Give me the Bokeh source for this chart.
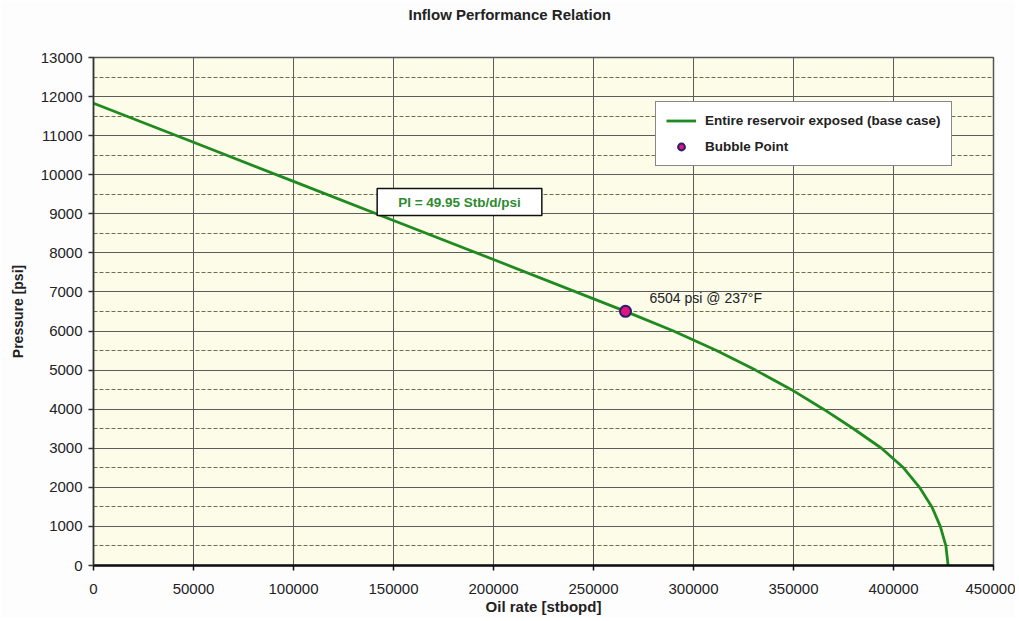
from bokeh.plotting import figure
from bokeh.models import Label, Legend, FixedTicker, BasicTickFormatter, Range1d
from bokeh.embed import file_html
from bokeh.resources import INLINE

# ---- data ----
oil_rate = [0, 50000, 100000, 150000, 200000, 266000, 290000, 311500, 331000,
            349000, 365000, 380000, 394000, 405000, 413000, 419200, 423400, 426200, 427300]
pressure = [11830, 10830, 9830, 8830, 7830, 6504, 6000, 5500, 5000,
            4500, 4000, 3500, 3000, 2500, 2000, 1500, 1000, 500, 0]
bubble_rate = [266000]
bubble_pressure = [6504]

x_ticks = [0, 50000, 100000, 150000, 200000, 250000, 300000, 350000, 400000, 450000]
y_ticks = [0, 1000, 2000, 3000, 4000, 5000, 6000, 7000, 8000, 9000, 10000, 11000, 12000, 13000]
y_minor = [500, 1500, 2500, 3500, 4500, 5500, 6500, 7500, 8500, 9500, 10500, 11500, 12500]

title_text = "Inflow Performance Relation"
x_label = "Oil rate [stbopd]"
y_label = "Pressure [psi]"
series_name = "Entire reservoir exposed (base case)"
bubble_name = "Bubble Point"
pi_text = "PI = 49.95 Stb/d/psi"
bubble_text = "6504 psi @ 237\u00b0F"

FONT = "Liberation Sans"

p = figure(width=1015, height=618,
           x_range=Range1d(0, 450000), y_range=Range1d(0, 13000),
           output_backend="svg", toolbar_location=None,
           min_border_left=93, min_border_right=22,
           min_border_top=57, min_border_bottom=53,
           background_fill_color="#fcfce9", border_fill_color="#fdfdfe")

# trailing empty lines lift the visible title line higher above the frame
p.title.text = title_text + "\n\n"
p.title.align = "left"
p.title.offset = 315
p.title.standoff = 1
p.title.text_font = FONT
p.title.text_font_size = "15px"
p.title.text_font_style = "bold"
p.title.text_color = "#222222"

p.outline_line_color = "#555555"
p.outline_line_width = 1.5

# grids
p.xgrid.ticker = FixedTicker(ticks=x_ticks)
p.xgrid.grid_line_color = "#5c5c5c"
p.xgrid.grid_line_width = 1
p.ygrid.ticker = FixedTicker(ticks=y_ticks, minor_ticks=y_minor)
p.ygrid.grid_line_color = "#5c5c5c"
p.ygrid.grid_line_width = 1
p.ygrid.minor_grid_line_color = "#6e6e48"
p.ygrid.minor_grid_line_dash = "4 2"
p.ygrid.minor_grid_line_width = 1.2

# axes
p.xaxis.ticker = FixedTicker(ticks=x_ticks)
p.yaxis.ticker = FixedTicker(ticks=y_ticks)
for ax in (p.xaxis[0], p.yaxis[0]):
    ax.formatter = BasicTickFormatter(use_scientific=False)
    ax.major_label_text_font = FONT
    ax.major_label_text_font_size = "15px"
    ax.major_label_text_color = "#222222"
    ax.axis_label_text_font = FONT
    ax.axis_label_text_font_style = "bold"
    ax.axis_label_text_color = "#222222"
    ax.major_tick_in = 0
    ax.major_tick_out = 5
    ax.minor_tick_line_color = None

p.xaxis.axis_label = x_label
p.xaxis.axis_label_text_font_size = "15px"
p.xaxis.axis_line_color = "#111111"
p.xaxis.axis_line_width = 2.5
p.xaxis.major_tick_line_color = "#111111"
p.xaxis.major_tick_line_width = 1.5
p.xaxis.major_label_standoff = 13
p.xaxis.axis_label_standoff = 1

p.yaxis.axis_label = y_label
p.yaxis.axis_label_text_font_size = "14px"
p.yaxis.axis_line_color = "#333333"
p.yaxis.axis_line_width = 1.5
p.yaxis.major_tick_line_color = "#333333"
p.yaxis.major_tick_line_width = 1.5
p.yaxis.major_label_standoff = 6
p.yaxis.axis_label_standoff = 12

# data
curve = p.line(oil_rate, pressure, line_color="#1f8a1f", line_width=2.8)
bubble = p.scatter(bubble_rate, bubble_pressure, size=11, marker="circle",
                   fill_color="#e0157f", line_color="#2b1d6b", line_width=2)

# annotations
p.add_layout(Label(x=183000, y=9300, text=pi_text,
                   text_align="center", text_baseline="middle",
                   text_font=FONT, text_font_size="13.5px", text_font_style="bold",
                   text_color="#2e8b2e",
                   background_fill_color="#ffffff", background_fill_alpha=1.0,
                   border_line_color="#111111", border_line_width=1.5,
                   padding=dict(left=21, right=21, top=6, bottom=6)))
p.add_layout(Label(x=278000, y=6850, text=bubble_text,
                   text_align="left", text_baseline="middle",
                   text_font=FONT, text_font_size="14px",
                   text_color="#222222"))

legend = Legend(items=[(series_name, [curve]), (bubble_name, [bubble])],
                location=(562, 399))
legend.border_line_color = "#111111"
legend.border_line_width = 1.5
legend.background_fill_color = "#ffffff"
legend.background_fill_alpha = 1.0
legend.label_text_font = FONT
legend.label_text_font_size = "13.5px"
legend.label_text_font_style = "bold"
legend.label_text_color = "#222222"
legend.glyph_width = 30
legend.glyph_height = 17
legend.label_height = 17
legend.spacing = 9
legend.padding = 10
legend.margin = 0
legend.label_standoff = 9
p.add_layout(legend)

open("out.html", "w").write(file_html(p, INLINE))
